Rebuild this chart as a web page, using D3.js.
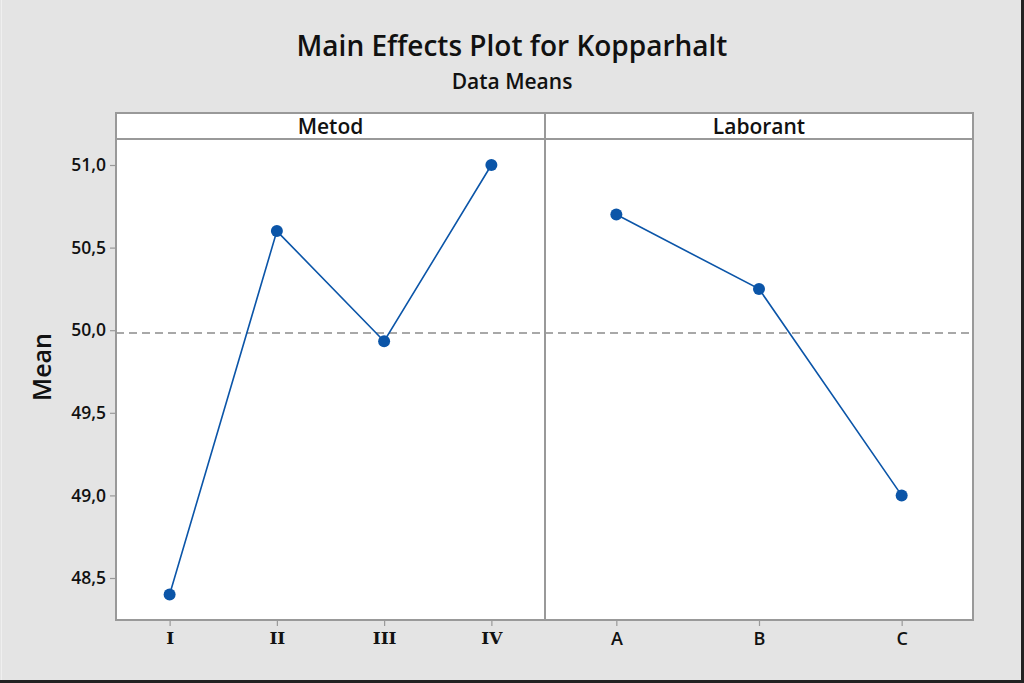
<!DOCTYPE html>
<html>
<head>
<meta charset="utf-8">
<script src="https://cdn.jsdelivr.net/npm/d3@7"></script>
<style>
html,body{margin:0;padding:0;background:#e4e4e4;}
svg{display:block;}
</style>
</head>
<body>
<svg id="chart" width="1024" height="683"></svg>
<script>
const title = "Main Effects Plot for Kopparhalt";
const subtitle = "Data Means";
const yLabel = "Mean";
const factors = ["Metod", "Laborant"];
const metodLevels = ["I", "II", "III", "IV"];
const metodMeans = [48.4, 50.6, 49.933, 51.0];
const laborantLevels = ["A", "B", "C"];
const laborantMeans = [50.7, 50.25, 49.0];
const grandMean = 49.983;
const yTicks = [48.5, 49.0, 49.5, 50.0, 50.5, 51.0];

(function () {
const svg = d3.select("#chart");
const W = 1024, H = 683;
svg.append("rect").attr("width", W).attr("height", H).attr("fill", "#e4e4e4");
svg.append("line").attr("x1", W-1.5).attr("x2", W-1.5).attr("y1", 0).attr("y2", H).attr("stroke", "#222").attr("stroke-width", 3);
svg.append("line").attr("x1", 0).attr("x2", W).attr("y1", H-1.5).attr("y2", H-1.5).attr("stroke", "#222").attr("stroke-width", 3);
svg.append("line").attr("x1", 1.5).attr("x2", 1.5).attr("y1", 0).attr("y2", H-3).attr("stroke", "#efefef").attr("stroke-width", 1);

const sans = "'Open Sans', 'Noto Sans', sans-serif";

svg.append("text").attr("x", 512).attr("y", 56).attr("text-anchor", "middle")
  .attr("font-family", sans).attr("font-size", 28).attr("font-weight", 600).attr("fill", "#111").text(title);
svg.append("text").attr("x", 512).attr("y", 89).attr("text-anchor", "middle")
  .attr("font-family", sans).attr("font-size", 21).attr("font-weight", 600).attr("fill", "#111").text(subtitle);

const pLeft = 116, pRight = 973, pTop = 113, stripH = 26, pBottom = 620, pMid = 545;
const plotTop = pTop + stripH;

const y = d3.scaleLinear().domain([48.5, 51.0]).range([578, 165]);

const panels = [
  {name: factors[0], levels: metodLevels, means: metodMeans, x0: pLeft, x1: pMid, serif: true},
  {name: factors[1], levels: laborantLevels, means: laborantMeans, x0: pMid, x1: pRight, serif: false}
];

svg.append("rect").attr("x", pLeft).attr("y", pTop).attr("width", pRight-pLeft).attr("height", pBottom-pTop).attr("fill", "#fff");

svg.append("line").attr("x1", pLeft).attr("x2", pRight).attr("y1", y(grandMean)).attr("y2", y(grandMean))
  .attr("stroke", "#8c8c8c").attr("stroke-width", 1.6).attr("stroke-dasharray", "8,5");

panels.forEach(p => {
  const x = d3.scalePoint().domain(p.levels).range([p.x0, p.x1]).padding(0.5);
  const pts = p.levels.map((l, i) => [x(l), y(p.means[i])]);
  svg.append("path").attr("d", d3.line()(pts)).attr("fill", "none").attr("stroke", "#0b55a8").attr("stroke-width", 1.6);
  svg.selectAll(null).data(p.levels).enter().append("circle")
    .attr("cx", d => x(d)).attr("cy", (d, i) => y(p.means[i])).attr("r", 6).attr("fill", "#0b55a8");
  const ax = svg.append("g").attr("transform", `translate(0,${pBottom})`)
    .call(d3.axisBottom(x).tickSize(6).tickPadding(6));
  ax.select(".domain").remove();
  ax.selectAll(".tick line").attr("stroke", "#999").attr("stroke-width", 1.2);
  ax.selectAll(".tick text").attr("fill", "#111")
    .attr("font-family", p.serif ? "'DejaVu Serif', 'Liberation Serif', serif" : sans)
    .attr("font-size", p.serif ? 17 : 18).attr("font-weight", p.serif ? 700 : 600);
  svg.append("text").attr("x", (p.x0 + p.x1)/2).attr("y", pTop + 21).attr("text-anchor", "middle")
    .attr("font-family", sans).attr("font-size", 21).attr("font-weight", 600).attr("fill", "#111").text(p.name);
});

const yAx = svg.append("g").attr("transform", `translate(${pLeft},0)`)
  .call(d3.axisLeft(y).tickValues(yTicks).tickSize(6).tickPadding(4).tickFormat(d => d3.format(".1f")(d).replace(".", ",")));
yAx.select(".domain").remove();
yAx.selectAll(".tick line").attr("stroke", "#999").attr("stroke-width", 1.2);
yAx.selectAll(".tick text").attr("fill", "#111").attr("font-family", sans).attr("font-size", 17.5).attr("font-weight", 600);

svg.append("text").attr("transform", "translate(51,367) rotate(-90)").attr("text-anchor", "middle")
  .attr("font-family", sans).attr("font-size", 25).attr("font-weight", 600).attr("fill", "#111").text(yLabel);

const stroke = "#999";
svg.append("rect").attr("x", pLeft).attr("y", pTop).attr("width", pRight-pLeft).attr("height", pBottom-pTop)
  .attr("fill", "none").attr("stroke", stroke).attr("stroke-width", 2);
svg.append("line").attr("x1", pLeft).attr("x2", pRight).attr("y1", plotTop).attr("y2", plotTop).attr("stroke", stroke).attr("stroke-width", 2);
svg.append("line").attr("x1", pMid).attr("x2", pMid).attr("y1", pTop).attr("y2", pBottom).attr("stroke", stroke).attr("stroke-width", 2);
})();
</script>
</body>
</html>
